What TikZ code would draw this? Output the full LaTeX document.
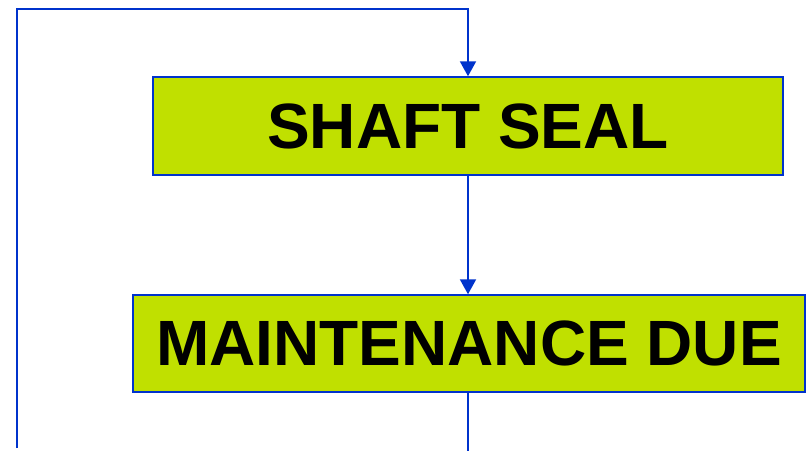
\documentclass[tikz,border=0pt]{standalone}
\usepackage{fontspec}
\setmainfont{Liberation Sans}
\usepackage{xcolor}
\usepackage{tikz}
\usetikzlibrary{arrows.meta}
\definecolor{flowblue}{RGB}{0,51,204}
\definecolor{limefill}{RGB}{192,224,0}

\begin{document}
\begin{tikzpicture}[x=1pt, y=-1pt,
    stagebox/.style={draw=flowblue, line width=1.5pt, fill=limefill,
      inner sep=0pt, font=\fontsize{64}{64}\selectfont\bfseries},
    flow/.style={draw=flowblue, line width=2pt},
    flowarrow/.style={flow, -{Triangle[length=15pt, width=16pt]}}]
            \useasboundingbox (0,0) rectangle (807,451);
            \node[stagebox, minimum width=630pt, minimum height=98pt] (seal) 
            at (468,126) {SHAFT SEAL};
            \node[stagebox, minimum width=672pt, minimum height=97pt] (due) 
            at (469,343.5) {MAINTENANCE DUE};
            \coordinate (loopin) at (17,448);
            \coordinate (loopout) at (468,451);
            \draw[flowarrow] (loopin) |- (468,9) -- (seal.north);%
            \draw[flowarrow] (seal.south) -- (seal.south |- due.north);%
            \draw[flow] (due.south -| seal.south) -- (loopout);%
      \end{tikzpicture}
\end{document}
